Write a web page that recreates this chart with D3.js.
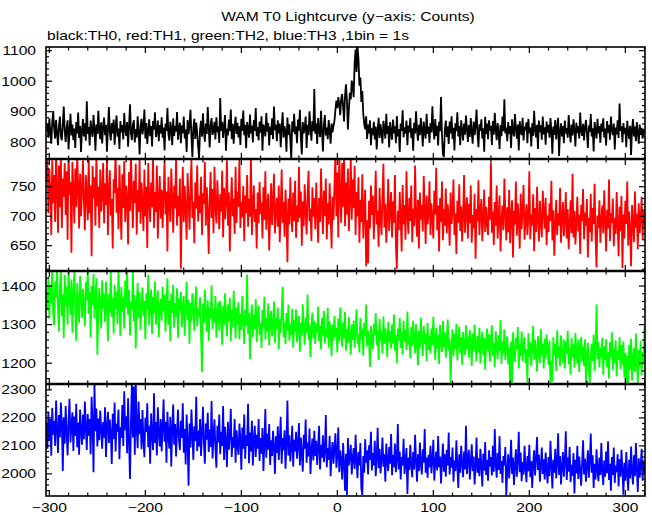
<!DOCTYPE html>
<html><head><meta charset="utf-8">
<script src="https://cdn.jsdelivr.net/npm/d3@7"></script>
<style>body{margin:0;background:#fff}svg{display:block}text{font-family:"Liberation Sans",Arial,Helvetica,sans-serif;fill:#000}</style>
</head><body><svg id="c" width="652" height="515"></svg>
<script>
const tStart = -303; // time of first 1-s bin
const th0 = [
842,860,815,878,830,795,866,902,845,812,873,828,790,851,884,821,806,858,917,836,
801,848,872,776,839,893,822,858,807,845,781,866,829,897,814,853,768,840,876,819,
862,805,934,827,850,789,871,836,818,889,845,772,858,827,903,838,810,865,796,848,
881,823,857,769,842,915,834,806,863,829,874,792,851,887,818,845,778,869,832,856,
809,896,840,821,866,785,851,924,830,807,858,872,799,843,815,885,836,760,852,877,
826,849,907,812,863,794,838,875,820,853,786,869,841,898,817,834,871,803,856,829,
882,815,848,773,861,837,912,826,805,867,844,790,878,821,853,835,899,808,846,864,
797,855,830,884,812,842,768,873,826,858,906,819,752,848,877,811,864,831,785,748,
843,870,818,895,836,802,861,827,915,848,783,856,879,824,840,867,809,882,833,851,
798,945,837,866,814,853,889,772,845,822,874,836,907,811,860,795,848,883,827,864,
816,852,791,877,838,904,823,857,780,866,842,815,891,829,854,799,873,837,912,820,
849,806,868,831,885,772,858,842,819,896,835,863,789,851,824,878,810,917,840,857,
803,872,829,861,784,846,898,815,853,836,769,881,824,859,810,745,868,833,893,826,
851,797,874,838,906,812,760,866,829,847,884,781,857,823,901,845,805,869,836,974,
828,862,794,879,841,817,903,835,770,856,889,822,848,810,873,839,795,861,832,854,
870,905,936,912,948,925,889,941,958,917,868,952,990,936,842,905,962,940,1002,985,
948,1058,1104,1030,1112,1075,985,1012,932,968,895,860,842,885,811,858,829,872,790,846,
823,867,809,851,776,838,880,814,859,832,796,870,845,812,893,827,854,783,866,835,
808,874,829,852,797,886,819,843,768,861,837,905,816,849,828,871,790,855,832,879,
813,846,772,864,829,901,838,805,857,823,879,841,786,868,834,812,893,827,851,798,
863,832,918,845,809,876,821,854,789,867,836,948,825,760,752,843,871,817,852,794,
868,829,885,811,847,773,862,836,898,819,853,790,872,838,806,861,825,887,843,801,
856,817,879,834,795,868,823,852,907,828,784,859,837,875,812,846,769,883,826,861,
810,872,838,854,791,869,825,896,842,807,863,831,778,857,820,884,836,941,829,848,
803,866,827,853,781,875,838,819,892,846,812,858,773,869,835,824,880,806,851,839,
865,797,876,830,848,786,862,821,903,843,816,857,778,871,833,855,808,884,826,849,
792,868,831,857,815,879,838,762,851,824,873,809,844,880,755,836,862,819,853,797,
871,828,846,815,889,833,799,858,822,875,842,786,864,830,853,812,897,837,821,860,
806,849,873,827,781,855,834,892,819,846,770,866,838,812,877,829,853,798,861,835,
878,816,845,789,869,831,856,808,884,840,823,861,776,848,826,872,814,927,837,852,
799,863,828,847,784,870,833,811,854,758,842,876,819,851,803,866,830,795,858,824,
847,812,836,829];
const th1 = [
760,800,705,781,742,668,795,722,770,690,810,748,672,786,715,799,680,764,733,790,
702,776,660,812,736,758,638,792,745,688,781,716,805,752,679,772,700,744,795,724,
676,770,738,693,801,705,752,632,785,731,766,684,808,717,750,680,779,708,737,790,
688,756,719,799,668,741,778,701,729,645,763,739,815,706,748,678,787,727,660,771,
714,793,690,752,733,652,775,709,806,740,680,760,722,789,669,745,707,798,687,757,
725,675,779,700,750,646,790,730,690,757,715,803,680,741,707,786,662,726,768,696,
745,680,736,795,703,742,640,767,720,690,781,729,672,752,713,800,684,734,700,764,
611,718,784,690,751,710,660,773,731,677,741,796,697,724,654,757,713,786,691,735,
705,767,668,739,721,792,684,749,709,636,730,775,697,746,671,784,715,688,761,722,
678,737,708,777,664,748,695,724,795,684,740,640,716,766,700,730,670,784,689,742,
716,799,680,724,698,751,658,735,705,770,682,730,699,805,668,718,752,690,712,645,
740,688,758,704,723,662,749,694,776,677,716,738,642,699,756,685,725,772,671,709,
731,682,752,656,707,779,689,724,665,745,701,622,730,686,766,704,673,740,692,760,
663,718,690,784,697,742,650,725,683,754,707,669,736,777,691,713,658,749,699,731,
678,757,706,655,731,690,781,716,670,743,700,764,661,722,686,756,704,645,733,693,
752,808,700,774,664,812,738,689,790,716,804,683,757,703,781,675,730,799,694,762,
714,785,668,741,700,766,655,728,690,771,662,713,745,615,693,620,726,679,752,702,
735,661,713,777,686,709,648,748,698,668,730,789,681,721,655,702,763,675,714,741,
664,725,689,770,652,611,709,676,741,697,640,753,686,719,660,776,701,670,731,692,
752,656,713,683,786,700,665,728,645,740,694,719,674,768,710,653,735,686,705,759,
668,722,695,662,743,703,782,676,718,640,731,690,759,659,712,684,747,671,720,698,
650,740,687,712,762,668,705,636,726,689,754,675,717,657,699,770,672,708,732,662,
721,688,752,655,702,679,738,628,712,691,761,668,706,729,658,697,745,673,716,686,
668,733,694,791,672,708,651,724,684,752,662,699,735,640,693,718,676,764,704,659,
715,673,745,654,700,727,630,709,686,759,667,722,691,645,738,678,712,753,660,694,
720,668,699,776,661,703,684,737,641,714,673,750,695,657,726,688,664,743,707,679,
731,651,701,673,722,692,760,659,710,633,689,728,668,705,684,748,655,699,724,666,
695,741,662,712,644,686,727,671,772,664,709,652,690,733,674,703,636,719,692,746,
661,706,684,729,630,697,673,738,657,714,687,755,665,613,701,680,727,655,694,718,
671,744,692,640,711,679,762,658,705,688,730,649,697,670,741,686,632,716,675,734,
612,703,662,726,687,759,650,708,677,615,719,690,656,742,680,704,644,722,671,697,
733,660,711,684];
const th2 = [
1385,1338,1425,1315,1403,1356,1448,1330,1298,1412,1370,1450,1344,1282,1396,1441,1322,1378,1265,1430,
1350,1399,1300,1452,1368,1326,1417,1279,1381,1437,1335,1258,1408,1355,1305,1426,1373,1318,1392,1346,
1296,1410,1364,1446,1328,1384,1268,1401,1350,1431,1316,1372,1420,1222,1333,1395,1358,1290,1415,1342,
1380,1307,1412,1352,1256,1379,1331,1440,1320,1369,1277,1404,1340,1386,1301,1451,1353,1270,1398,1334,
1370,1290,1414,1345,1444,1325,1390,1272,1360,1339,1438,1309,1376,1238,1355,1408,1318,1384,1286,1350,
1396,1322,1362,1262,1381,1339,1430,1298,1354,1391,1276,1372,1329,1412,1300,1360,1389,1268,1349,1367,
1310,1398,1336,1378,1282,1352,1420,1300,1361,1256,1380,1330,1403,1292,1356,1320,1394,1266,1368,1335,
1385,1294,1348,1374,1271,1339,1411,1312,1364,1250,1356,1309,1382,1336,1284,1362,1399,1296,1342,1320,
1371,1275,1177,1355,1304,1390,1326,1282,1363,1258,1343,1316,1402,1288,1340,1305,1375,1266,1333,1358,
1284,1362,1323,1248,1348,1299,1381,1327,1270,1352,1308,1369,1257,1337,1292,1388,1320,1264,1344,1302,
1358,1262,1328,1287,1374,1310,1250,1340,1297,1430,1276,1331,1210,1312,1352,1268,1325,1289,1366,1255,
1322,1350,1274,1305,1240,1338,1293,1372,1262,1318,1281,1355,1246,1309,1336,1270,1299,1360,1253,1316,
1288,1344,1236,1314,1279,1333,1398,1267,1306,1249,1330,1284,1352,1258,1301,1273,1341,1240,1311,1282,
1339,1254,1296,1322,1230,1305,1271,1353,1286,1248,1318,1279,1378,1260,1300,1216,1290,1331,1264,1310,
1250,1303,1280,1347,1257,1296,1236,1318,1271,1336,1251,1289,1266,1343,1241,1307,1278,1218,1300,1259,
1322,1268,1292,1228,1316,1256,1345,1281,1243,1306,1264,1333,1232,1288,1252,1320,1274,1222,1300,1260,
1310,1241,1286,1340,1250,1275,1228,1317,1262,1290,1220,1305,1270,1352,1243,1284,1256,1190,1296,1263,
1236,1302,1274,1330,1246,1285,1208,1315,1258,1279,1226,1321,1250,1290,1268,1216,1307,1255,1284,1238,
1300,1252,1326,1232,1273,1200,1290,1259,1317,1240,1280,1222,1310,1256,1286,1234,1334,1248,1270,1213,
1294,1244,1310,1265,1226,1301,1255,1194,1284,1238,1318,1262,1219,1296,1250,1276,1206,1305,1234,1270,
1225,1290,1247,1320,1260,1209,1292,1238,1274,1198,1299,1256,1229,1310,1242,1280,1214,1266,1313,1233,
1262,1147,1240,1288,1218,1276,1236,1302,1207,1259,1295,1226,1268,1196,1281,1245,1222,1298,1237,1270,
1214,1286,1250,1193,1277,1230,1300,1244,1205,1271,1228,1292,1199,1258,1281,1220,1266,1183,1247,1290,
1230,1275,1204,1262,1298,1219,1252,1190,1283,1240,1211,1272,1232,1312,1198,1257,1225,1288,1208,1246,
1270,1197,1240,1146,1256,1148,1280,1228,1203,1266,1236,1294,1186,1250,1218,1282,1206,1245,1268,1199,
1236,1147,1278,1216,1254,1193,1242,1297,1209,1260,1226,1178,1270,1231,1200,1289,1222,1251,1186,1264,
1212,1275,1238,1195,1258,1146,1205,1152,1267,1221,1250,1180,1285,1213,1244,1192,1272,1228,1201,1261,
1186,1255,1225,1284,1197,1240,1171,1265,1214,1249,1188,1278,1226,1199,1262,1177,1236,1268,1204,1243,
1192,1262,1147,1224,1253,1184,1149,1217,1250,1206,1274,1180,1235,1352,1210,1256,1189,1240,1215,1266,
1170,1243,1208,1262,1190,1229,1160,1254,1214,1280,1182,1238,1200,1259,1166,1232,1209,1268,1185,1247,
1196,1256,1162,1227,1146,1219,1149,1248,1183,1263,1155,1214,1240,1177,1277,1199,1146,1234,1191,1258,
1168,1229,1198,1296];
const th3 = [
2178,2090,2222,2118,2196,2065,2236,2140,2190,2100,2262,2160,2075,2210,2130,2255,2178,2010,2202,2108,
2242,2148,2066,2190,2268,2112,2170,2220,2082,2205,2135,2250,2095,2183,2068,2230,2155,2104,2212,2124,
2258,2166,2085,2214,2136,2196,2070,2275,2180,2006,2320,2152,2233,2098,2198,2120,2226,2160,2090,2185,
2128,2238,2060,2172,2222,2110,2194,2145,2035,2215,2125,2255,2080,2180,2150,2230,2052,2166,2128,2246,
2100,2295,2156,2206,2074,2270,2118,1982,2186,2325,2130,2312,2068,2328,2160,2092,2258,2142,2196,2088,
2228,2120,2060,2200,2150,2252,2095,2172,2036,2216,2138,2085,2288,2110,2185,2066,2238,2146,2098,2196,
2080,2170,2266,2115,2186,2040,2222,2134,2090,2204,2026,2160,2248,2104,2178,2062,2150,2230,2122,2085,
2190,2128,2252,2076,2160,2034,2212,2115,1958,2180,2094,2230,2140,2050,2170,2118,2275,2082,2155,2098,
2196,2064,2145,2240,2108,2036,2180,2122,2218,2078,2158,2096,2260,2055,2136,2195,2090,2022,2172,2112,
2212,2070,2150,2100,2242,2050,2168,2120,2025,2186,2086,2140,2232,2060,2132,2094,2196,2040,2156,2104,
2068,2180,2122,2015,2166,2090,2212,2054,2138,2100,2250,2038,2148,2080,2190,2030,2122,2172,2060,2140,
2090,2196,2046,2128,2072,2164,2010,2112,2232,2058,2144,2086,2178,2032,2120,2064,2154,2098,2000,2134,
2075,2170,2050,2116,2204,2036,2128,2085,2156,2018,2108,2262,2066,2138,2044,2096,2172,2026,2122,2080,
2150,2054,2102,2182,2030,2130,2074,2008,2140,2090,2194,2040,2112,2062,2162,2000,2082,2126,2048,2154,
2064,2118,2032,2095,2172,2016,2104,2058,2138,2042,2080,2210,2024,2092,2050,2136,1992,2072,2114,2036,
2090,2145,2022,2066,2166,2006,2084,2048,1980,2110,2038,1940,2072,1925,2128,2030,2062,2104,1998,2056,
2092,2018,2140,2046,1985,2078,2030,2110,1948,1925,2064,2004,2124,2040,2084,1998,2102,2050,2150,2012,
2074,2030,2118,1992,2058,2165,2020,2090,2002,2052,2130,2026,2070,1972,2108,2044,2010,2096,2036,2142,
1995,2068,2024,2108,2006,2050,2178,2016,2080,1980,2060,2030,2125,2000,2046,2092,1928,2058,2014,2104,
2030,1988,2078,2016,2140,2048,1972,2070,2010,2112,2036,1998,2088,2040,2160,2004,2058,1986,2068,2024,
2100,2002,2050,2122,1976,2040,2080,2012,2135,2024,2062,1966,2044,2108,2008,2070,1990,2086,2030,2148,
1998,2060,2022,2094,1972,2048,2010,2120,2030,1950,2070,2004,2100,2038,1988,2080,2016,2172,2000,2052,
2086,1980,2040,2106,2010,2062,1962,2028,2130,2004,2056,1992,2090,2032,1955,2072,2012,2114,1996,2050,
1976,2084,2026,2060,1994,2100,2008,2160,2036,1986,2074,2014,2134,2000,2046,1968,2064,2030,2096,1922,
2012,2070,1984,2040,2122,2000,2058,1960,2030,2088,1990,2048,2150,2006,2076,1974,2042,1998,2100,2020,
1970,2064,2010,2104,1988,2046,1950,2036,2084,1994,2054,2132,2014,2068,1972,2030,2094,2000,2052,1980,
2076,2016,1966,2060,1992,2118,2034,1948,2050,2004,2090,1984,2040,2145,1996,2064,1962,2026,2078,1990,
2044,2152,1978,2058,2008,2096,1970,2032,1994,2074,1930,2050,2002,2100,1982,2062,2014,1958,2040,2120,
1998,2054,1972,2028,2084,1986,2044,2144,2004,2066,1950,2036,1980,2088,2012,1974,2058,1996,2110,2010,
1960,2048,1990,2080,2002,2116,1978,2036,1940,2060,1996,2094,1968,2030,2006,2070,1955,2052,1990,2086,
2012,1926,2040,1976,2078,1998,1940,2050,1984,2098,2004,1962,2066,1992,2110,2018,1935,2056,1986,2030,
2090,1976,2048,2005];

const xTicks = [-300,-200,-100,0,100,200,300];
const yTicks0 = [800,900,1000,1100];
const yTicks1 = [650,700,750];
const yTicks2 = [1200,1300,1400];
const yTicks3 = [2000,2100,2200,2300];
const yRange0 = [745,1112];
const yRange1 = [607,797];
const yRange2 = [1146,1439];
const yRange3 = [1921,2321];
const titleText = "WAM T0 Lightcurve (y\u2212axis: Counts)";
const subText = "black:TH0, red:TH1, green:TH2, blue:TH3 ,1bin = 1s";

const svg = d3.select("#c");
const L = 46, R = 645;
const tops = [47,159,271,384,496];
const x = d3.scaleLinear().domain([-303.5, 320.5]).range([L, R]);
const series = [th0, th1, th2, th3];
const colors = ["#000000","#ff0000","#00ff00","#0000ff"];
const ranges = [yRange0,yRange1,yRange2,yRange3];
const yticks = [yTicks0,yTicks1,yTicks2,yTicks3];
const SX = 1.25, FS = 12.5;

function label(g, tx, ty, txt, anchor){
  g.append("g").attr("transform",`translate(${tx},${ty}) scale(${SX},1)`)
   .append("text").attr("font-size",FS).attr("text-anchor",anchor).text(txt);
}

const defs = svg.append("defs");
series.forEach((vals, p) => {
  const top = tops[p], bot = tops[p+1];
  const y = d3.scaleLinear().domain(ranges[p]).range([bot, top]);
  defs.append("clipPath").attr("id","cp"+p).append("rect")
    .attr("x",L).attr("y",top).attr("width",R-L).attr("height",bot-top);
  const line = d3.line().x((d,i)=>x(tStart+i)).y(d=>y(d));
  svg.append("path").datum(vals).attr("d",line).attr("fill","none")
    .attr("stroke",colors[p]).attr("stroke-width",1.8).attr("stroke-linejoin","miter")
    .attr("clip-path",`url(#cp${p})`);
  const ax = svg.append("g").attr("stroke","#000").attr("stroke-width",1.2);
  const minorX = d3.range(-300, 321, 20);
  minorX.forEach(t => {
    const len = (t % 100 === 0) ? 6 : 3.5;
    const xx = x(t);
    ax.append("line").attr("x1",xx).attr("x2",xx).attr("y1",bot).attr("y2",bot-len);
    ax.append("line").attr("x1",xx).attr("x2",xx).attr("y1",top).attr("y2",top+len);
  });
  const tk = yticks[p];
  const step = tk[1]-tk[0];
  const minorY = d3.range(tk[0]-step, tk[tk.length-1]+step+1e-9, step/5)
     .filter(v => y(v) >= top-0.01 && y(v) <= bot+0.01);
  minorY.forEach(v => {
    const major = tk.includes(Math.round(v));
    const len = major ? 6 : 3;
    const yy = y(v);
    ax.append("line").attr("x1",L).attr("x2",L+len).attr("y1",yy).attr("y2",yy);
    ax.append("line").attr("x1",R).attr("x2",R-len).attr("y1",yy).attr("y2",yy);
  });
  tk.forEach(v => label(svg, 36, y(v)+4.5, String(v), "end"));
  svg.append("rect").attr("x",L).attr("y",top).attr("width",R-L).attr("height",bot-top)
    .attr("fill","none").attr("stroke","#000").attr("stroke-width",1.6);
});
[159,271,384].forEach(yy => svg.append("line").attr("x1",L).attr("x2",R).attr("y1",yy).attr("y2",yy)
   .attr("stroke","#000").attr("stroke-width",2.6));

xTicks.forEach(t => label(svg, x(t), 512, t < 0 ? "\u2212"+Math.abs(t) : String(t), "middle"));
label(svg, 348, 21, titleText, "middle");
label(svg, 47, 40, subText, "start");
</script></body></html>
